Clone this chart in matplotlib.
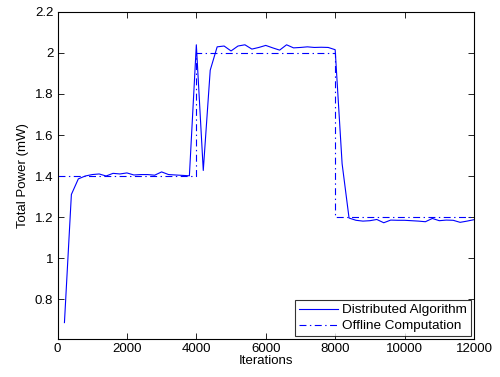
import matplotlib
import matplotlib.pyplot as plt
import numpy as np

matplotlib.use('Agg')

plt.rcParams['font.family'] = ['Liberation Sans', 'DejaVu Sans']
plt.rcParams['lines.scale_dashes'] = False

# Distributed algorithm output, sampled every 200 iterations
iterations = np.arange(200, 12001, 200)
distributed_power = [
    0.685, 1.31, 1.386, 1.40, 1.407, 1.41, 1.40, 1.413, 1.41, 1.415,
    1.405, 1.407, 1.407, 1.404, 1.42, 1.407, 1.405, 1.403, 1.401, 2.04,
    1.427, 1.916, 2.03, 2.034, 2.01, 2.034, 2.04, 2.019, 2.027, 2.037,
    2.025, 2.014, 2.04, 2.025, 2.027, 2.03, 2.027, 2.028, 2.027, 2.016,
    1.46, 1.195, 1.184, 1.18, 1.182, 1.188, 1.172, 1.185, 1.184, 1.184,
    1.182, 1.18, 1.177, 1.193, 1.182, 1.185, 1.184, 1.174, 1.18, 1.187,
]

# Offline optimum, piecewise constant between demand changes
offline_iterations = [0, 4000, 4000, 8000, 8000, 12000]
offline_power = [1.4, 1.4, 2.0, 2.0, 1.2, 1.2]

fig = plt.figure(figsize=(5.0, 3.77), dpi=100)
ax = fig.add_axes([0.115, 0.1008, 0.833, 0.8674])

ax.plot(iterations, distributed_power, color='#0000ff', linewidth=0.8,
        label='Distributed Algorithm')
ax.plot(offline_iterations, offline_power, color='#0000ff', linewidth=0.8,
        linestyle=(0, (5, 2.5, 1, 2.5)), label='Offline Computation')

ax.set_xlim(0, 12000)
ax.set_ylim(0.605, 2.2)
ax.set_xticks(np.arange(0, 12001, 2000))
ax.set_yticks([0.8, 1.0, 1.2, 1.4, 1.6, 1.8, 2.0, 2.2])
ax.set_yticklabels(['0.8', '1', '1.2', '1.4', '1.6', '1.8', '2', '2.2'])
ax.tick_params(direction='in', length=4, width=0.6, top=True, right=True,
               labelsize=9.5, pad=3)
for spine in ax.spines.values():
    spine.set_linewidth(0.8)

ax.set_xlabel('Iterations', fontsize=9.5, labelpad=0)
ax.set_ylabel('Total Power (mW)', fontsize=9.5, labelpad=4)

leg = ax.legend(loc='lower right', fontsize=9.7, frameon=True, fancybox=False,
                borderaxespad=0.2, handlelength=2.9, handletextpad=0.35,
                borderpad=0.3, labelspacing=0.25)
leg.get_frame().set_edgecolor('black')
leg.get_frame().set_linewidth(0.8)

plt.savefig('out.png', dpi=100)
plt.close()
